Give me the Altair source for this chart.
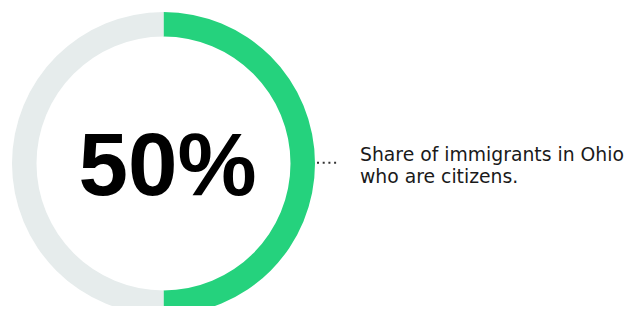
import altair as alt
import pandas as pd

categories = ["Citizens", "Non-citizens"]
shares = [50, 50]
colors = ["#25D27D", "#E6ECEC"]
big_label = ["50%"]
caption_lines = ["Share of immigrants in Ohio", "who are citizens."]

ring_df = pd.DataFrame({"category": categories, "share": shares, "order": [0, 1]})
big_df = pd.DataFrame({"label": big_label})
cap_df = pd.DataFrame({"line": caption_lines, "row": [0, 1]})
lead_df = pd.DataFrame({"a": [0]})

CX, CY = 155.5, 155.5

ring = alt.Chart(ring_df).mark_arc(outerRadius=151.5, innerRadius=127).encode(
    theta=alt.Theta("share:Q", stack=True),
    order=alt.Order("order:Q"),
    color=alt.Color("category:N", scale=alt.Scale(domain=categories, range=colors), legend=None),
    x=alt.value(CX),
    y=alt.value(CY),
)

big = alt.Chart(big_df).mark_text(
    font="Liberation Sans", fontSize=89, fontWeight="bold", align="center", baseline="alphabetic",
    color="#000000",
).encode(text="label:N", x=alt.value(159.5), y=alt.value(186.5))

lead = alt.Chart(lead_df).mark_rule(
    color="#333333", strokeWidth=2, strokeDash=[2, 3.7]
).encode(x=alt.value(309), x2=alt.value(329), y=alt.value(154.7))

cap = alt.Chart(cap_df).mark_text(
    font="DejaVu Sans", fontSize=18.8, align="left", baseline="alphabetic", color="#1a1a1a",
).encode(
    text="line:N",
    x=alt.value(352),
    y=alt.Y("row:Q", scale=alt.Scale(domain=[0, 1], range=[152.7, 174.7]), axis=None),
)

chart = alt.layer(ring, big, lead, cap).properties(
    width=625, height=298, autosize=alt.AutoSizeParams(type="none"), padding=0,
).configure_view(stroke=None)

chart.save("out.html", embed_options={"renderer": "svg", "actions": False})
